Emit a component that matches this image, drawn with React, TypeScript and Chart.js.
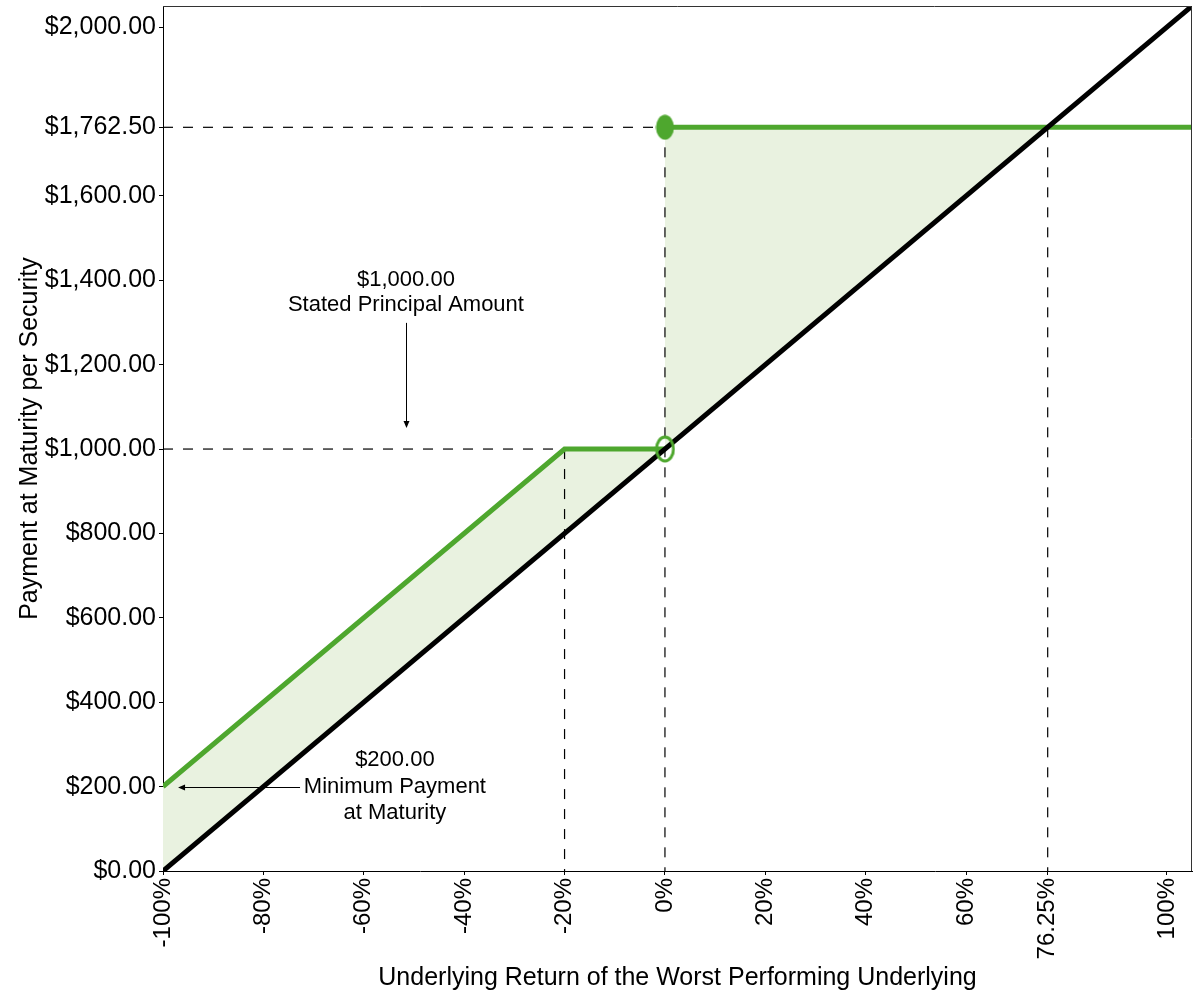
import React, { useEffect, useRef } from "react";
import { Chart, registerables } from "chart.js";

Chart.register(...registerables);

// ---- data ----
const X_TICKS = [-100, -80, -60, -40, -20, 0, 20, 40, 60, 76.25, 100];
const Y_TICKS = [0, 200, 400, 600, 800, 1000, 1200, 1400, 1600, 1762.5, 2000];

const UNDERLYING_X = [-100, 105];
const UNDERLYING_Y = [0, 2050];

const NOTE_LOW_X = [-100, -20, 0];
const NOTE_LOW_Y = [200, 1000, 1000];

const NOTE_HIGH_X = [0, 105];
const NOTE_HIGH_Y = [1762.5, 1762.5];

const PRINCIPAL = 1000;
const CAP = 1762.5;
const BUFFER = -20;
const CROSSOVER = 76.25;
const MIN_PAYMENT = 200;

const X_MIN = -100;
const X_MAX = 105;
const Y_MIN = 0;
const Y_MAX = 2050;

const ANNOT_PRINCIPAL_LINES = ["$1,000.00", "Stated Principal Amount"];
const ANNOT_PRINCIPAL_X = -51.6;
const ANNOT_PRINCIPAL_Y = [1400, 1341];
const ANNOT_PRINCIPAL_ARROW_Y = [1299, 1050];

const ANNOT_MIN_LINES = ["$200.00", "Minimum Payment", "at Maturity"];
const ANNOT_MIN_X = -53.8;
const ANNOT_MIN_Y = [263, 200, 137];
const ANNOT_MIN_ARROW_X = [-72.7, -97];

const GREEN = "#4ea72e";
const FILL = "#e9f2e0";
const FONT = "'Liberation Sans', Arial, sans-serif";

const pts = (xs: number[], ys: number[]) => xs.map((x, i) => ({ x, y: ys[i] }));

function ellipseCanvas(w: number, h: number, filled: boolean) {
  const c = document.createElement("canvas");
  c.width = w;
  c.height = h;
  const ctx = c.getContext("2d")!;
  ctx.beginPath();
  if (filled) {
    ctx.ellipse(w / 2, h / 2, w / 2 - 0.5, h / 2 - 0.5, 0, 0, Math.PI * 2);
    ctx.fillStyle = GREEN;
    ctx.fill();
  } else {
    ctx.ellipse(w / 2, h / 2, w / 2 - 2, h / 2 - 2, 0, 0, Math.PI * 2);
    ctx.strokeStyle = GREEN;
    ctx.lineWidth = 3;
    ctx.stroke();
  }
  return c;
}

const annotationPlugin = {
  id: "annotations",
  afterDraw(chart: any) {
    const { ctx, chartArea, scales } = chart;
    const xs = scales.x;
    const ys = scales.y;
    ctx.save();
    // top & right frame
    ctx.strokeStyle = "#333";
    ctx.lineWidth = 1;
    ctx.beginPath();
    ctx.moveTo(chartArea.left, chartArea.top + 0.5);
    ctx.lineTo(chartArea.right - 0.5, chartArea.top + 0.5);
    ctx.lineTo(chartArea.right - 0.5, chartArea.bottom);
    ctx.stroke();

    ctx.fillStyle = "#000";
    ctx.font = `22px ${FONT}`;
    ctx.textAlign = "center";
    ctx.textBaseline = "middle";
    const px = xs.getPixelForValue(ANNOT_PRINCIPAL_X);
    ANNOT_PRINCIPAL_LINES.forEach((t, i) => ctx.fillText(t, px, ys.getPixelForValue(ANNOT_PRINCIPAL_Y[i])));
    const mx = xs.getPixelForValue(ANNOT_MIN_X);
    ANNOT_MIN_LINES.forEach((t, i) => ctx.fillText(t, mx, ys.getPixelForValue(ANNOT_MIN_Y[i])));

    // arrows
    ctx.strokeStyle = "#000";
    ctx.lineWidth = 1;
    const ax = Math.round(px) + 0.5;
    const ay0 = ys.getPixelForValue(ANNOT_PRINCIPAL_ARROW_Y[0]);
    const ay1 = ys.getPixelForValue(ANNOT_PRINCIPAL_ARROW_Y[1]);
    ctx.beginPath();
    ctx.moveTo(ax, ay0);
    ctx.lineTo(ax, ay1 - 4);
    ctx.stroke();
    ctx.beginPath();
    ctx.moveTo(ax, ay1);
    ctx.lineTo(ax - 3, ay1 - 7);
    ctx.lineTo(ax + 3, ay1 - 7);
    ctx.closePath();
    ctx.fill();

    const by = Math.round(ys.getPixelForValue(MIN_PAYMENT)) + 0.5;
    const bx0 = xs.getPixelForValue(ANNOT_MIN_ARROW_X[0]);
    const bx1 = xs.getPixelForValue(ANNOT_MIN_ARROW_X[1]);
    ctx.beginPath();
    ctx.moveTo(bx0, by);
    ctx.lineTo(bx1 + 4, by);
    ctx.stroke();
    ctx.beginPath();
    ctx.moveTo(bx1, by);
    ctx.lineTo(bx1 + 7, by - 3);
    ctx.lineTo(bx1 + 7, by + 3);
    ctx.closePath();
    ctx.fill();
    ctx.restore();
  },
};

export default function App() {
  const ref = useRef<HTMLCanvasElement>(null);

  useEffect(() => {
    document.body.style.margin = "0";
    const canvas = ref.current!;
    const filledDot = ellipseCanvas(19, 26, true);
    const openDot = ellipseCanvas(21, 28, false);

    const dash = { borderColor: "#000", borderWidth: 1.2, borderDash: [10, 10], pointRadius: 0, fill: false, order: 5 };

    const fillPolygon = [
      ...pts(NOTE_LOW_X, NOTE_LOW_Y),
      { x: 0, y: CAP },
      { x: CROSSOVER, y: CAP },
      { x: UNDERLYING_X[0], y: UNDERLYING_Y[0] },
    ];

    const chart = new Chart(canvas, {
      type: "line",
      data: {
        datasets: [
          {
            data: fillPolygon,
            borderWidth: 0,
            borderColor: "rgba(0,0,0,0)",
            backgroundColor: FILL,
            pointRadius: 0,
            fill: "shape",
            order: 10,
          } as any,
          { ...dash, data: [{ x: X_MIN, y: CAP }, { x: CROSSOVER, y: CAP }] },
          { ...dash, data: [{ x: CROSSOVER, y: CAP }, { x: CROSSOVER, y: 0 }] },
          { ...dash, data: [{ x: 0, y: CAP }, { x: 0, y: 0 }] },
          { ...dash, data: [{ x: X_MIN, y: PRINCIPAL }, { x: 0, y: PRINCIPAL }] },
          { ...dash, data: [{ x: BUFFER, y: PRINCIPAL }, { x: BUFFER, y: 0 }] },
          {
            data: pts(NOTE_LOW_X, NOTE_LOW_Y),
            borderColor: GREEN,
            borderWidth: 5,
            pointRadius: 0,
            fill: false,
            order: 3,
          },
          {
            data: pts(NOTE_HIGH_X, NOTE_HIGH_Y),
            borderColor: GREEN,
            borderWidth: 5,
            pointRadius: 0,
            fill: false,
            order: 3,
          },
          {
            data: pts(UNDERLYING_X, UNDERLYING_Y),
            borderColor: "#000",
            borderWidth: 5,
            pointRadius: 0,
            fill: false,
            order: 2,
          },
          {
            data: [
              { x: 0, y: PRINCIPAL },
              { x: 0, y: CAP },
            ],
            showLine: false,
            pointRadius: 10,
            pointStyle: [openDot, filledDot] as any,
            fill: false,
            order: 1,
          } as any,
        ],
      },
      options: {
        animation: false,
        responsive: true,
        maintainAspectRatio: false,
        devicePixelRatio: 1,
        layout: { autoPadding: false, padding: { top: 6, right: 8, left: 0, bottom: 0 } },
        plugins: { legend: { display: false }, tooltip: { enabled: false } },
        events: [],
        scales: {
          x: {
            type: "linear",
            min: X_MIN,
            max: X_MAX,
            afterBuildTicks: (s: any) => {
              s.ticks = X_TICKS.map((v) => ({ value: v }));
            },
            afterFit: (s: any) => {
              s.height = 129;
              s.paddingLeft = 0;
              s.paddingRight = 0;
            },
            grid: { display: true, drawOnChartArea: false, tickLength: 4, color: "#000" },
            border: { display: true, color: "#000", width: 1 },
            ticks: {
              autoSkip: false,
              minRotation: 90,
              maxRotation: 90,
              padding: 3,
              color: "#000",
              font: { family: FONT, size: 24 },
              callback: (v: any) => `${v}%`,
            },
            title: {
              display: true,
              text: "Underlying Return of the Worst Performing Underlying",
              color: "#000",
              font: { family: FONT, size: 25 },
              padding: { top: 0, bottom: 7 },
            },
          },
          y: {
            type: "linear",
            min: Y_MIN,
            max: Y_MAX,
            afterBuildTicks: (s: any) => {
              s.ticks = Y_TICKS.map((v) => ({ value: v }));
            },
            afterFit: (s: any) => {
              s.width = 163;
              s.paddingTop = 0;
              s.paddingBottom = 0;
            },
            grid: { display: true, drawOnChartArea: false, tickLength: 4, color: "#000" },
            border: { display: true, color: "#000", width: 1 },
            ticks: {
              autoSkip: false,
              padding: 3,
              color: "#000",
              font: { family: FONT, size: 25 },
              callback: (v: any) =>
                "$" + Number(v).toLocaleString("en-US", { minimumFractionDigits: 2, maximumFractionDigits: 2 }),
            },
            title: {
              display: true,
              text: "Payment at Maturity per Security",
              color: "#000",
              font: { family: FONT, size: 25 },
              padding: { top: 15, bottom: 0 },
            },
          },
        },
      } as any,
      plugins: [annotationPlugin],
    });
    return () => chart.destroy();
  }, []);

  return (
    <div style={{ width: 1200, height: 1000, position: "relative" }}>
      <canvas ref={ref} />
    </div>
  );
}
